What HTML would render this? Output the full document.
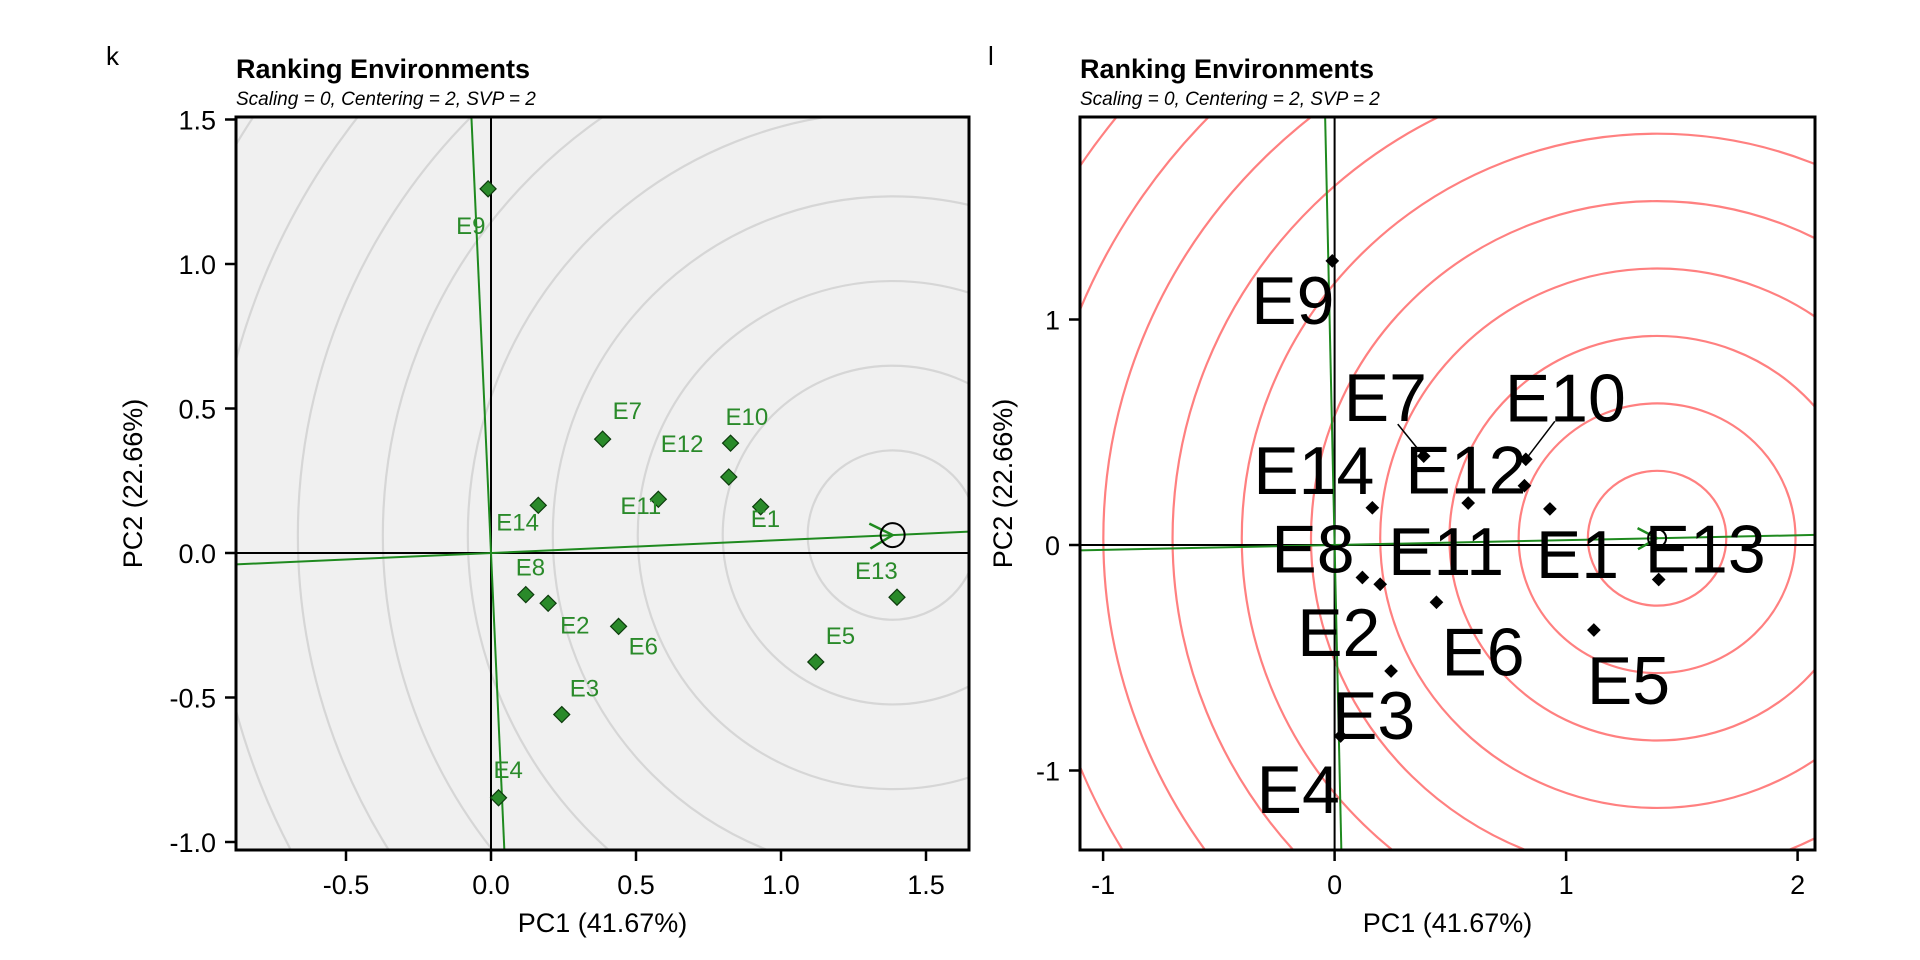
<!DOCTYPE html>
<html><head><meta charset="utf-8"><style>
html,body{margin:0;background:#fff;width:1920px;height:960px;overflow:hidden}
svg{display:block;font-family:"Liberation Sans",Arial,sans-serif}
</style></head><body>
<svg id="chart" width="1920" height="960" viewBox="0 0 1920 960">
<defs>
<clipPath id="clipL"><rect x="236" y="117" width="733" height="733"/></clipPath>
<clipPath id="clipR"><rect x="1080" y="117" width="735" height="733"/></clipPath>
</defs>
</svg>
<script>
const envNames=["E1","E2","E3","E4","E5","E6","E7","E8","E9","E10","E11","E12","E13","E14"];
const pc1=[0.93,0.197,0.244,0.026,1.12,0.44,0.385,0.12,-0.01,0.826,0.577,0.82,1.40,0.163];
const pc2=[0.16,-0.174,-0.559,-0.847,-0.377,-0.254,0.394,-0.144,1.26,0.38,0.186,0.263,-0.153,0.165];
const aecL=[1.385,0.062];
const aecR=[1.393,0.03];
const ringIdx=[1,2,3,4,5,6,7,8,9,10,11,12];
const xTicksL=[-0.5,0,0.5,1,1.5], xTickLabL=["-0.5","0.0","0.5","1.0","1.5"];
const yTicksL=[-1,-0.5,0,0.5,1,1.5], yTickLabL=["-1.0","-0.5","0.0","0.5","1.0","1.5"];
const xTicksR=[-1,0,1,2], xTickLabR=["-1","0","1","2"];
const yTicksR=[-1,0,1], yTickLabR=["-1","0","1"];
// label offsets in pixels (repel placement), order E1..E14
const labLdx=[-10,12,8,-5,10,10,10,-10,-32,-5,-38,-68,-42,-42];
const labLdy=[20,30,-18,-20,-18,28,-20,-19,45,-18,15,-25,-18,25];
const labRdx=[-14,-83,-59,-84,-7,5,-80,-91,-81,-21,-80,-119,-14,-119];
const labRdy=[69,72,68,77,74,73,-35,-5,63,-38,72,8,-7,-14];

const svg=document.getElementById('chart');
const NS='http://www.w3.org/2000/svg';
function mk(tag,attrs,parent){const e=document.createElementNS(NS,tag);for(const k in attrs)e.setAttribute(k,attrs[k]);(parent||svg).appendChild(e);return e;}

function panel(o){
  const aec=o.aec;
  const sx=v=>o.x0+o.ux*v, sy=v=>o.y0-o.uy*v;
  const g=mk('g',{});
  
  
  const bg=mk('rect',{x:o.L,y:o.T,width:o.W,height:o.H,fill:o.bg},g);
  
  
  const c=mk('g',{'clip-path':'url(#'+o.clip+')'},g);
  ringIdx.forEach(k=>{
    const r=k*o.step;
    const el=mk('ellipse',{cx:sx(aec[0]),cy:sy(aec[1]),rx:r*o.ux,ry:r*o.uy,fill:'none',stroke:o.ring,'stroke-width':2.2},c);
    
    
  });
  const h=mk('line',{x1:o.L,y1:sy(0),x2:o.L+o.W,y2:sy(0),stroke:'#000','stroke-width':2},c);
  
  const v=mk('line',{x1:sx(0),y1:o.T,x2:sx(0),y2:o.T+o.H,stroke:'#000','stroke-width':2},c);
  
  const t=10;
  const a1=mk('line',{x1:sx(-aec[0]*t),y1:sy(-aec[1]*t),x2:sx(aec[0]*t),y2:sy(aec[1]*t),stroke:'#1f8a1f','stroke-width':2},c);
  
  const a2=mk('line',{x1:sx(aec[1]*t),y1:sy(-aec[0]*t),x2:sx(-aec[1]*t),y2:sy(aec[0]*t),stroke:'#1f8a1f','stroke-width':2},c);
  
  const ax=sx(aec[0]),ay=sy(aec[1]),ang=Math.atan2(ay-sy(0),ax-sx(0));
  const hl=o.head, hw=0.5;
  const ah=mk('path',{d:`M${ax-hl*Math.cos(ang-hw)},${ay-hl*Math.sin(ang-hw)} L${ax},${ay} L${ax-hl*Math.cos(ang+hw)},${ay-hl*Math.sin(ang+hw)}`,fill:'none',stroke:'#1f8a1f','stroke-width':2.5},c);
  
  const ci=mk('circle',{cx:ax,cy:ay,r:o.cr,fill:'none',stroke:'#000','stroke-width':2},c);
  
  if(o.leaders){o.leaders.forEach(l=>{const ln=mk('line',{x1:sx(pc1[l[0]]),y1:sy(pc2[l[0]]),x2:sx(pc1[l[0]])+l[1],y2:sy(pc2[l[0]])+l[2],stroke:'#000','stroke-width':1.5},c);});}
  envNames.forEach((n,i)=>{
    const px=sx(pc1[i]),py=sy(pc2[i]),s=o.ps;
    const p=mk('path',{d:`M${px},${py-s} L${px+s},${py} L${px},${py+s} L${px-s},${py}Z`,fill:o.pf,stroke:o.pst,'stroke-width':1.2},c);
    
    
  });
  envNames.forEach((n,i)=>{
    const tx=mk('text',{x:sx(pc1[i])+o.ldx[i],y:sy(pc2[i])+o.ldy[i],'font-size':o.lfs,fill:o.lc},c);
    tx.textContent=n;
    
    
  });
  const box=mk('rect',{x:o.L,y:o.T,width:o.W,height:o.H,fill:'none',stroke:'#000','stroke-width':3},g);
  
  o.xt.forEach((v,i)=>{
    const tk=mk('line',{x1:sx(v),y1:o.T+o.H,x2:sx(v),y2:o.T+o.H+11,stroke:'#000','stroke-width':2.5},g);
    
    const tl=mk('text',{x:sx(v),y:o.T+o.H+44,'font-size':27,'text-anchor':'middle',fill:'#000'},g);
    tl.textContent=o.xl[i];
    
  });
  o.yt.forEach((v,i)=>{
    const tk=mk('line',{x1:o.L-11,y1:sy(v),x2:o.L,y2:sy(v),stroke:'#000','stroke-width':2.5},g);
    
    const tl=mk('text',{x:o.L-20,y:sy(v)+10,'font-size':27,'text-anchor':'end',fill:'#000'},g);
    tl.textContent=o.yl[i];
    
  });
  const xt=mk('text',{x:o.L+o.W/2,y:o.T+o.H+82,'font-size':27,'text-anchor':'middle'},g);
  xt.textContent='PC1 (41.67%)';
  const yx=o.L-o.ytOff, yy=o.T+o.H/2;
  const yt=mk('text',{x:yx,y:yy,'font-size':27,'text-anchor':'middle',transform:`rotate(-90 ${yx} ${yy})`},g);
  yt.textContent='PC2 (22.66%)';
  const ti=mk('text',{x:o.L,y:78,'font-size':27,'font-weight':'bold'},g);
  ti.textContent='Ranking Environments';
  const st=mk('text',{x:o.L,y:105,'font-size':19,'font-style':'italic'},g);
  st.textContent='Scaling = 0, Centering = 2, SVP = 2';
  const tg=mk('text',{x:o.tagX,y:65,'font-size':26},g);
  tg.textContent=o.tag;
}
panel({name:'left',L:236,T:117,W:733,H:733,x0:491,y0:553,ux:290,uy:289,aec:aecL,bg:'#f0f0f0',ring:'#d6d6d6',step:0.293,clip:'clipL',
  head:26,cr:12,ps:8,pf:'#2a8a2a',pst:'#0d3b0d',lfs:24,lc:'#2a8a2a',ldx:labLdx,ldy:labLdy,
  xt:xTicksL,xl:xTickLabL,yt:yTicksL,yl:yTickLabL,ytOff:94,tag:'k',tagX:106});
panel({name:'right',L:1080,T:117,W:735,H:733,x0:1334.6,y0:545,ux:231.5,uy:225.5,aec:aecR,bg:'#ffffff',ring:'#ff8080',step:0.299,clip:'clipR',
  head:22,cr:9,ps:6,pf:'#000',pst:'#000',lfs:68,lc:'#000',ldx:labRdx,ldy:labRdy,leaders:[[6,-26,-32],[9,29,-38]],
  xt:xTicksR,xl:xTickLabR,yt:yTicksR,yl:yTickLabR,ytOff:68,tag:'l',tagX:988});
</script>
</body></html>
